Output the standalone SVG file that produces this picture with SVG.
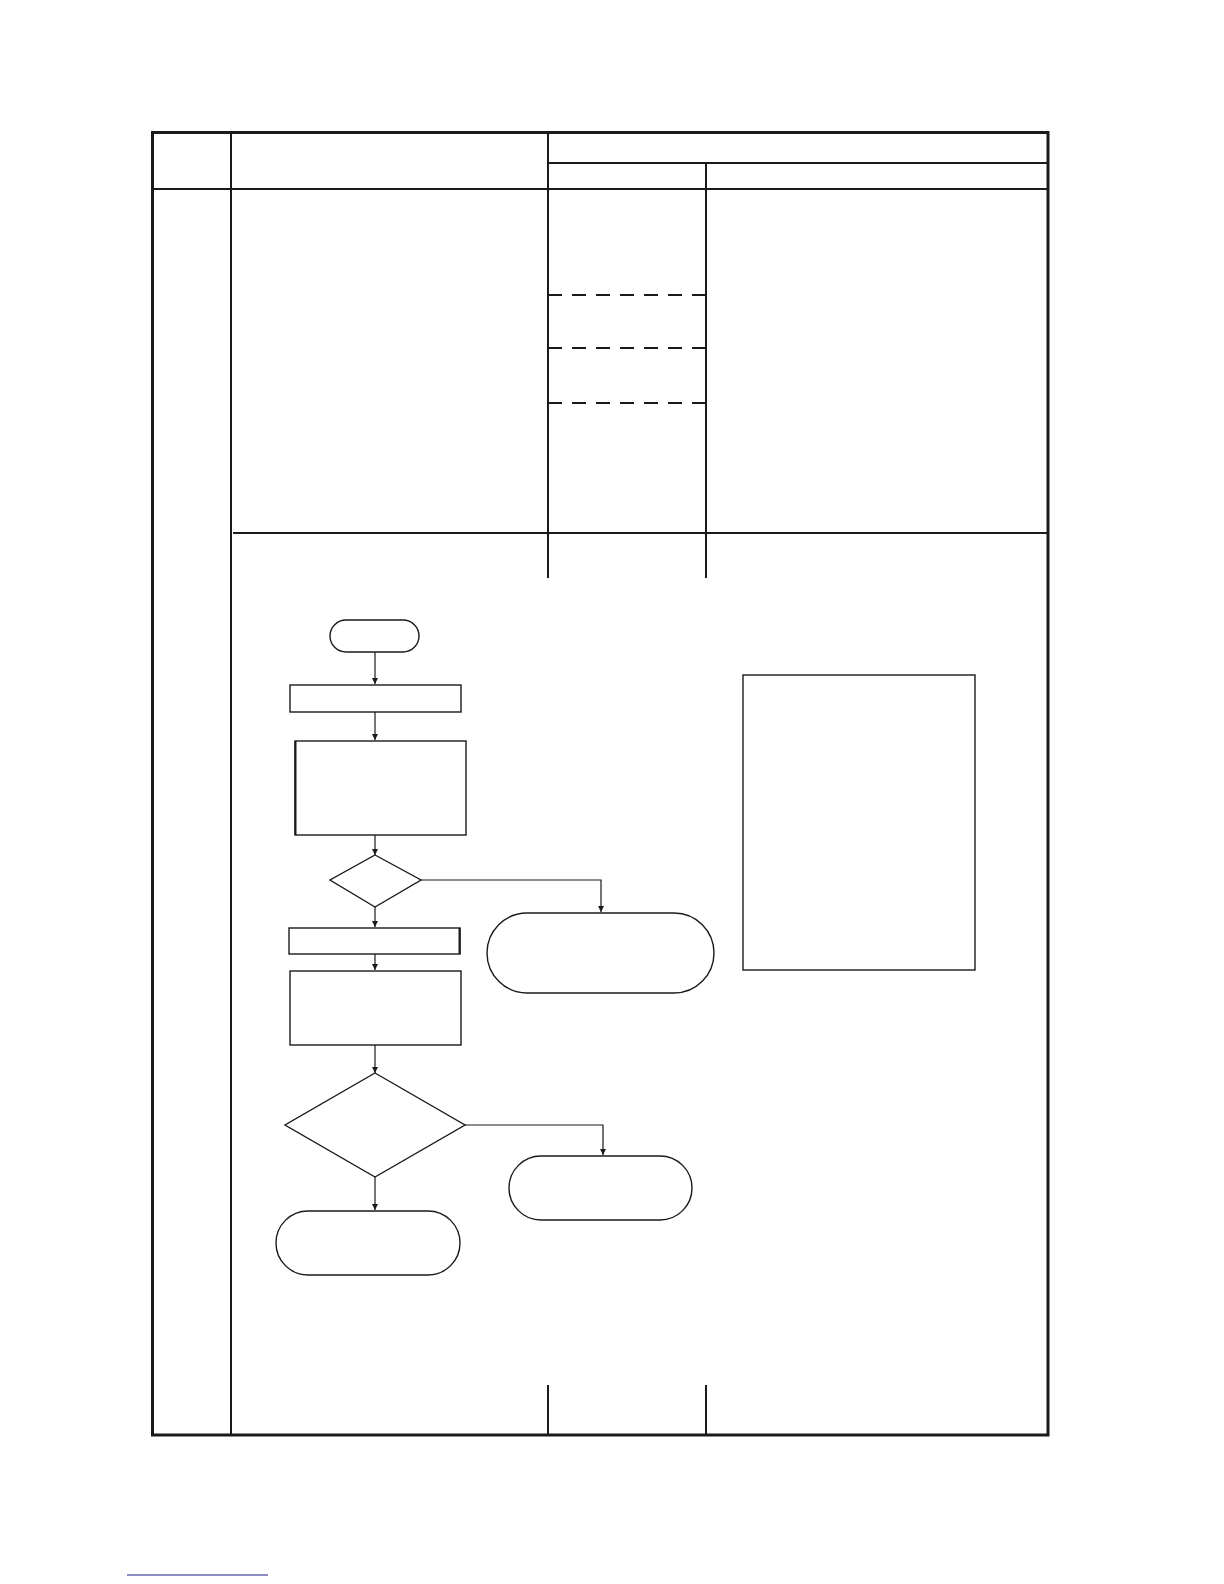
<svg xmlns="http://www.w3.org/2000/svg" width="1224" height="1584" viewBox="0 0 1224 1584">
<style>
.frame{fill:none;stroke:#1a1a1a;stroke-width:3}
.grid{fill:none;stroke:#1a1a1a;stroke-width:2}
.dash{fill:none;stroke:#1a1a1a;stroke-width:2;stroke-dasharray:14,10}
.node{fill:#fff;stroke:#1a1a1a;stroke-width:1.4}
.conn{fill:none;stroke:#1a1a1a;stroke-width:1.2}
</style>
<defs>
<marker id="arr" viewBox="0 0 6 8" refX="6" refY="4" markerWidth="6" markerHeight="8" markerUnits="userSpaceOnUse" orient="auto">
<path d="M0,1 L6,4 L0,7 z" fill="#1a1a1a"/>
</marker>
</defs>
<rect width="1224" height="1584" fill="#fff"/>
<g id="table">
<rect class="frame" x="152.5" y="132.5" width="895.5" height="1302.5"/>
<line class="grid" x1="231" y1="132" x2="231" y2="1435"/>
<line class="grid" x1="548" y1="132" x2="548" y2="578"/>
<line class="grid" x1="706" y1="163" x2="706" y2="578"/>
<line class="grid" x1="548" y1="163" x2="1048" y2="163"/>
<line class="grid" x1="152" y1="189" x2="1048" y2="189"/>
<line class="grid" x1="233" y1="533" x2="1048" y2="533"/>
<line class="dash" x1="548" y1="295" x2="706" y2="295"/>
<line class="dash" x1="548" y1="348" x2="706" y2="348"/>
<line class="dash" x1="548" y1="403" x2="706" y2="403"/>
<line class="grid" x1="548" y1="1385" x2="548" y2="1435"/>
<line class="grid" x1="706" y1="1385" x2="706" y2="1435"/>
</g>
<g id="start"><rect class="node" x="330" y="620" width="89" height="32" rx="16"/></g>
<g id="step1"><rect class="node" x="290" y="685" width="171" height="27"/></g>
<g id="step2"><rect class="node" x="295" y="741" width="171" height="94"/><line x1="295.5" y1="741" x2="295.5" y2="835" stroke="#1a1a1a" stroke-width="2"/></g>
<g id="decision1"><polygon class="node" points="375,855 421,880 375,907 330,880"/></g>
<g id="end1"><rect class="node" x="487" y="913" width="227" height="80" rx="40"/></g>
<g id="step3"><rect class="node" x="289" y="928" width="171" height="26"/><line x1="459.5" y1="928" x2="459.5" y2="954" stroke="#1a1a1a" stroke-width="2"/></g>
<g id="step4"><rect class="node" x="290" y="971" width="171" height="74"/></g>
<g id="decision2"><polygon class="node" points="375,1073 465,1125 375,1177 285,1125"/></g>
<g id="end2"><rect class="node" x="509" y="1156" width="183" height="64" rx="32"/></g>
<g id="end3"><rect class="node" x="276" y="1211" width="184" height="64" rx="32"/></g>
<g id="note"><rect class="node" x="743" y="675" width="232" height="295"/></g>
<g id="connectors">
<line class="conn" x1="375" y1="652" x2="375" y2="684" marker-end="url(#arr)"/>
<line class="conn" x1="375" y1="712" x2="375" y2="740" marker-end="url(#arr)"/>
<line class="conn" x1="375" y1="835" x2="375" y2="855" marker-end="url(#arr)"/>
<polyline class="conn" points="421,880 601,880 601,912" marker-end="url(#arr)"/>
<line class="conn" x1="375" y1="907" x2="375" y2="927" marker-end="url(#arr)"/>
<line class="conn" x1="375" y1="954" x2="375" y2="970" marker-end="url(#arr)"/>
<line class="conn" x1="375" y1="1045" x2="375" y2="1073" marker-end="url(#arr)"/>
<polyline class="conn" points="465,1125 603,1125 603,1155" marker-end="url(#arr)"/>
<line class="conn" x1="375" y1="1177" x2="375" y2="1210" marker-end="url(#arr)"/>
</g>
<line x1="127" y1="1575" x2="268" y2="1575" stroke="#1a1a8a" stroke-width="1.2"/>
</svg>
